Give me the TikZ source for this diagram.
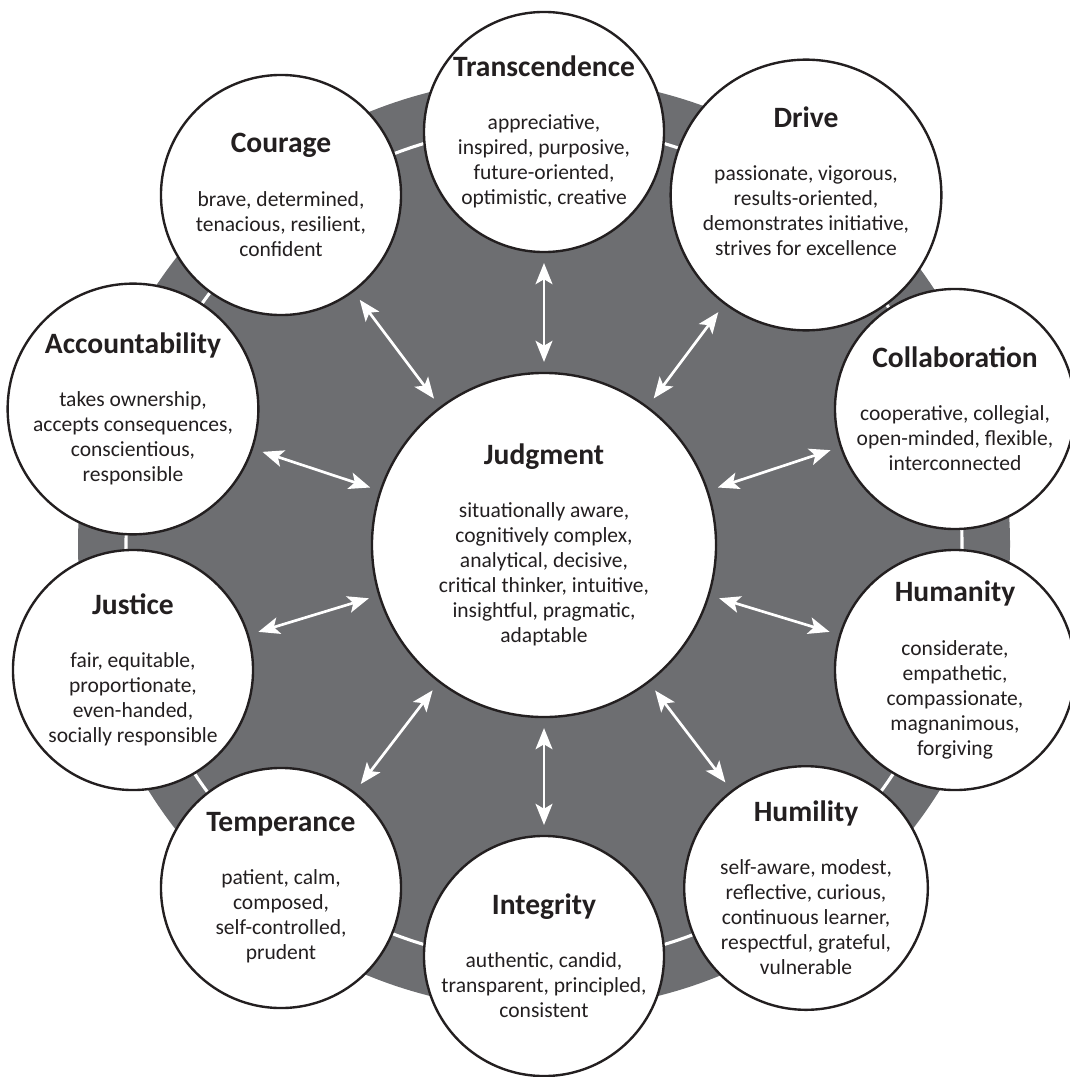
\documentclass[tikz,border=0pt]{standalone}
\usepackage{fontspec}
\setmainfont{Carlito}
\usepackage{tikz}
\usetikzlibrary{arrows.meta}
\definecolor{ringgray}{RGB}{109,110,113}
\definecolor{inkblack}{RGB}{35,31,32}
\newcommand{\vtitle}[1]{{\fontsize{21}{17.8}\selectfont\bfseries #1}\\[20pt]}

\begin{document}
\begin{tikzpicture}[x=0.025cm,y=-0.025cm,
  virtue/.style={circle,draw=inkblack,line width=1.7pt,fill=white,inner sep=0pt,
    minimum size=6cm,align=center,text=inkblack,font=\fontsize{15.3}{17.8}\selectfont},
  link/.style={{Stealth[length=15pt,width=12pt,inset=3.5pt]}-{Stealth[length=15pt,width=12pt,inset=3.5pt]},
    white,line width=1.9pt,shorten <=7pt,shorten >=7pt}]
\useasboundingbox (0,0) rectangle (1070,1077);
\fill[ringgray] (544,544) circle (466);
\draw[white,line width=2.2pt] (544,544) circle (418);
\node[virtue] (trans) at (544,132) {\vtitle{Transcendence}appreciative,\\inspired, purposive,\\future-oriented,\\optimistic, creative};
\node[virtue] (drive) at (806,195) {\vtitle{Drive}passionate, vigorous,\\results-oriented,\\demonstrates initiative,\\strives for excellence\\[2pt]\mbox{}};
\node[virtue] (collab) at (955,409) {\vtitle{Collaboration}cooperative, collegial,\\open-minded, flexible,\\interconnected};
\node[virtue] (human) at (955,670) {\vtitle{Humanity}considerate,\\empathetic,\\compassionate,\\magnanimous,\\forgiving};
\node[virtue] (humil) at (806,888) {\vtitle{Humility}self-aware, modest,\\reflective, curious,\\continuous learner,\\respectful, grateful,\\vulnerable};
\node[virtue] (integ) at (544,956) {\vtitle{Integrity}authentic, candid,\\transparent, principled,\\consistent};
\node[virtue] (temper) at (281,888) {\vtitle{Temperance}patient, calm,\\composed,\\self-controlled,\\prudent};
\node[virtue] (justice) at (133,670) {\vtitle{Justice}fair, equitable,\\proportionate,\\even-handed,\\socially responsible};
\node[virtue] (account) at (133,409) {\vtitle{Accountability}takes ownership,\\accepts consequences,\\conscientious,\\responsible};
\node[virtue] (courage) at (281,195) {\vtitle{Courage}brave, determined,\\tenacious, resilient,\\confident};
\node[virtue,minimum size=8.6cm] (judg) at (544,545) {\vtitle{Judgment}situationally aware,\\cognitively complex,\\analytical, decisive,\\critical thinker, intuitive,\\insightful, pragmatic,\\adaptable};
\draw[link] (judg) -- (trans);
\draw[link] (judg) -- (drive);
\draw[link] (judg) -- (collab);
\draw[link] (judg) -- (human);
\draw[link] (judg) -- (humil);
\draw[link] (judg) -- (integ);
\draw[link] (judg) -- (temper);
\draw[link] (judg) -- (justice);
\draw[link] (judg) -- (account);
\draw[link] (judg) -- (courage);
\end{tikzpicture}
\end{document}
